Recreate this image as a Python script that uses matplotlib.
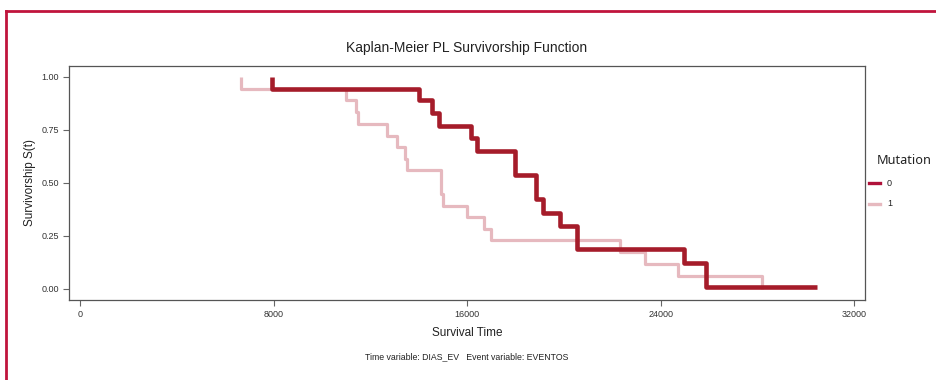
import numpy as np
import matplotlib
matplotlib.use("Agg")
import matplotlib.pyplot as plt
from matplotlib.lines import Line2D

plt.rcParams['font.family'] = ['Liberation Sans', 'DejaVu Sans']

# grupo 0 (Mutation = 0)
inicio0 = 7946
tiempos0 = [7946, 14008, 14558, 14835, 16157, 16417, 17975, 18843, 19145, 19835, 20550, 24959, 25855]
surv0 = [0.941, 0.888, 0.827, 0.769, 0.710, 0.652, 0.537, 0.424, 0.357, 0.298, 0.186, 0.124, 0.010]
fin0 = 30442

# grupo 1 (Mutation = 1)
inicio1 = 6640
tiempos1 = [6640, 10979, 11405, 11475, 12674, 13087, 13430, 13525, 14905, 15012, 15979, 16694, 16971, 22335, 23347, 24723, 28202]
surv1 = [0.944, 0.891, 0.835, 0.778, 0.722, 0.667, 0.612, 0.558, 0.449, 0.392, 0.337, 0.284, 0.230, 0.173, 0.118, 0.063, 0.0]
fin1 = 28202

xticks = [0, 8000, 16000, 24000, 32000]
yticks = [0.0, 0.25, 0.50, 0.75, 1.00]

color0 = '#a51c2a'
color1 = '#e6b9bf'

fig = plt.figure(figsize=(9.37, 3.8), dpi=100)
ax = fig.add_axes([69/937, 80/380, 796/937, 234/380])

x1 = [inicio1] + tiempos1 + [fin1]
y1 = [1.0] + surv1 + [surv1[-1]]
ax.step(x1, y1, where='post', color=color1, lw=2.3, solid_capstyle='butt', label='1')

x0 = [inicio0] + tiempos0 + [fin0]
y0 = [1.0] + surv0 + [surv0[-1]]
ax.step(x0, y0, where='post', color=color0, lw=3.3, solid_capstyle='butt', label='0')

ax.set_xlim(-455, 32440)
ax.set_ylim(-0.052, 1.05)
ax.set_xticks(xticks)
ax.set_xticklabels([str(v) for v in xticks])
ax.set_yticks(yticks)
ax.set_yticklabels(['%.2f' % v for v in yticks])
ax.tick_params(labelsize=6.5, length=4, width=0.8, color='#666666', labelcolor='#333333', pad=3)
for s in ax.spines.values():
    s.set_color('#555555')
    s.set_linewidth(0.9)

ax.set_title('Kaplan-Meier PL Survivorship Function', fontsize=10, color='#222222', pad=10)
ax.set_xlabel('Survival Time', fontsize=8.5, color='#222222', labelpad=6)
ax.set_ylabel('Survivorship S(t)', fontsize=8.5, color='#222222', labelpad=4)

fig.text(467/937, 1 - 357/380, 'Time variable: DIAS_EV   Event variable: EVENTOS',
         fontsize=6.3, color='#222222', ha='center', va='center')

# leyenda
fig.text(877/937, 1 - 161/380, 'Mutation', fontsize=9.2, color='#222222', ha='left', va='center',
         family=['Noto Sans', 'DejaVu Sans'])
fig.add_artist(Line2D([869/937, 880/937], [1 - 183/380, 1 - 183/380], color='#b0123a', lw=2.4))
fig.add_artist(Line2D([869/937, 880/937], [1 - 204/380, 1 - 204/380], color=color1, lw=2.4))
fig.text(887/937, 1 - 183/380, '0', fontsize=6.5, color='#222222', va='center')
fig.text(887/937, 1 - 204/380, '1', fontsize=6.5, color='#222222', va='center')

# marco
fig.add_artist(Line2D([6/937, 6/937], [0, 1 - 11/380], color='#c0143c', lw=2))
fig.add_artist(Line2D([6/937, 1], [1 - 11/380, 1 - 11/380], color='#c0143c', lw=2))

fig.savefig('out.png', dpi=100)
